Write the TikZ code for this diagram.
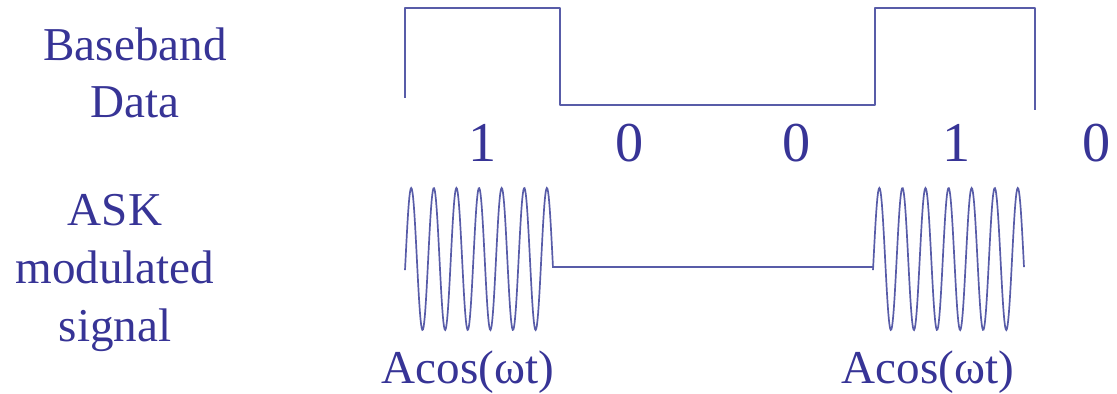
\documentclass[tikz,border=0pt]{standalone}
\usepackage{fontspec}
\setmainfont{Liberation Serif}
\usepackage{tikz}
\usetikzlibrary{positioning}
\definecolor{ink}{RGB}{55,52,150}
\definecolor{wave}{RGB}{88,92,168}
\begin{document}
\begin{tikzpicture}[x=0.025cm,y=0.025cm]
\tikzset{lab/.style={text=ink,font=\fontsize{33.5}{41}\selectfont,align=center,inner sep=0pt},
  bit/.style={text=ink,font=\fontsize{40}{48}\selectfont,anchor=base,inner sep=0pt},
  sig/.style={draw=wave,line width=1.5pt,line join=round},
  car/.style={draw=wave,line width=1.2pt}}
\useasboundingbox (0,0) rectangle (1117,394);
% left-hand labels
\node[lab] (bb) at (135,321) {Baseband\\Data};
\node[lab] (ask) at (115,121) {ASK\\modulated\\signal};
% baseband data
\draw[sig] (405,296) -- (405,386) -- (560,386) -- (560,289) -- (875,289) -- (875,386) -- (1035,386) -- (1035,284);
\foreach \b/\xx [count=\i] in {1/483,0/630,0/797,1/957,0/1097}
  \node[bit] (b\i) at (\xx,232) {\b};
% ask modulated signal
\coordinate (c1) at (553,127);\coordinate (c2) at (873,127);
\draw[car] plot[domain=405:553,samples=240] (\x,{135+71*sin(-9+(\x-405)*15.92)});
\draw[car] (c1) -- (c2);
\draw[car] plot[domain=873:1024,samples=240] (\x,{135+71*sin(-9+(\x-873)*15.6)});
\node[lab,anchor=base] (a1) at (468,10) {Acos(ωt)};
\node[lab,anchor=base] (a2) at (928,10) {Acos(ωt)};
\end{tikzpicture}
\end{document}
